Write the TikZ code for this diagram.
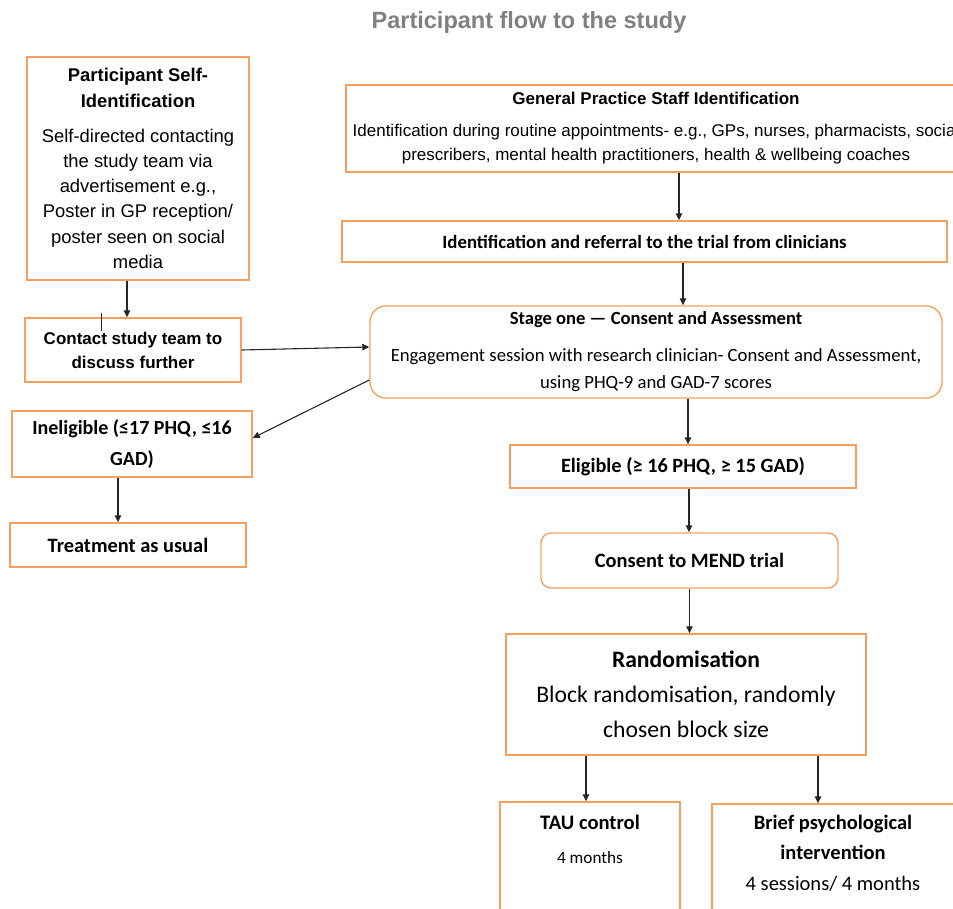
\documentclass[tikz,border=0pt]{standalone}
\usepackage{fontspec}
\setmainfont{Carlito}
\newfontfamily\arialfont{Liberation Sans}
\usetikzlibrary{arrows.meta}

\definecolor{boxorange}{RGB}{245,160,98}
\definecolor{titlegray}{RGB}{128,128,128}

\begin{document}
\begin{tikzpicture}[x=1pt,y=-1pt,>={Triangle[length=7pt,width=6.5pt]},
  box/.style={draw=boxorange,line width=1.4pt,inner sep=0pt,align=center},
  rbox/.style={box,rounded corners=16pt},
  arr/.style={->,line width=1.1pt,black!85}]

  % Page: same frame as the source image, anything sticking out is cut.
  \useasboundingbox (0,0) rectangle (953,909);
  \begin{scope}
    \clip (0,0) rectangle (953,909);

    % --- Title ---
    \node[titlegray,font=\arialfont\bfseries\fontsize{23.5}{28}\selectfont] (title) at (529,22)
      {Participant flow to the study};

    % --- Left column: self-identification route ---
    \node[box,minimum width=222pt,minimum height=223pt,
          font=\arialfont\fontsize{18.4}{25.2}\selectfont] (selfid) at (138,168.5) {%
      \textbf{Participant Self-}\\\textbf{Identification}\\[10pt]
      Self-directed contacting\\the study team via\\advertisement e.g.,\\
      Poster in GP reception/\\poster seen on social\\media};

    \node[box,minimum width=216pt,minimum height=64pt,
          font=\arialfont\bfseries\fontsize{17}{24}\selectfont] (contact) at (133,350)
      {Contact study team to\\discuss further};

    \node[box,minimum width=240pt,minimum height=66pt,
          font=\bfseries\fontsize{20}{31}\selectfont] (inelig) at (132,444)
      {Ineligible (≤17 PHQ, ≤16\\GAD)};

    \node[box,minimum width=236pt,minimum height=44pt,
          font=\bfseries\fontsize{20.4}{24}\selectfont] (tauusual) at (128,545)
      {Treatment as usual};

    % stray tick left on the contact box
    \coordinate (tickTop) at (101,313);
    \coordinate (tickBot) at (101,331);
    \draw[line width=1pt,black!85] (tickTop) -- (tickBot);

    % --- Right column: practice staff route ---
    \node[box,minimum width=620pt,minimum height=87pt,
          font=\arialfont\fontsize{17}{24}\selectfont] (gpbox) at (656,128.5) {%
      \textbf{General Practice Staff Identification}\\[8pt]
      Identification during routine appointments- e.g., GPs, nurses, pharmacists, social\\
      prescribers, mental health practitioners, health \& wellbeing coaches};

    \node[box,minimum width=605pt,minimum height=41pt,
          font=\bfseries\fontsize{18.8}{22}\selectfont] (referral) at (644.5,241.5)
      {Identification and referral to the trial from clinicians};

    \node[rbox,minimum width=572pt,minimum height=92pt,
          font=\fontsize{18.7}{27}\selectfont] (stage) at (656,352) {%
      {\bfseries\fontsize{18.6}{22}\selectfont Stage one — Consent and Assessment}\\[10pt]
      Engagement session with research clinician- Consent and Assessment,\\
      using PHQ-9 and GAD-7 scores};

    \node[box,minimum width=346pt,minimum height=43pt,
          font=\bfseries\fontsize{20.3}{24}\selectfont] (eligible) at (683,466.5)
      {Eligible (≥ 16 PHQ, ≥ 15 GAD)};

    \node[rbox,rounded corners=10pt,minimum width=297pt,minimum height=55pt,
          font=\bfseries\fontsize{20.4}{24}\selectfont] (consent) at (689.5,560.5)
      {Consent to MEND trial};

    \node[box,minimum width=360pt,minimum height=121pt,
          font=\fontsize{23.7}{35}\selectfont] (random) at (686,694.5) {%
      {\bfseries\fontsize{23.6}{28}\selectfont Randomisation}\\
      Block randomisation, randomly\\chosen block size};

    % --- Arms (cut off by the page bottom) ---
    \node[box,minimum width=180pt,minimum height=128pt] (taubox) at (590,866) {};
    \node[font=\bfseries\fontsize{20.6}{24}\selectfont] (tautitle) at (590,822) {TAU control};
    \node[font=\fontsize{17.2}{20}\selectfont] (taumonths) at (590,858) {4 months};

    \node[box,minimum width=263pt,minimum height=126pt] (briefbox) at (843.5,867) {};
    \node[align=center,font=\fontsize{20.5}{30.5}\selectfont] (brieftext) at (833,853) {%
      \textbf{Brief psychological}\\\textbf{intervention}\\
      4 sessions/ 4 months};

    % --- Connectors ---
    \draw[arr] ([xshift=-11pt]selfid.south) -- ([xshift=-11pt]selfid.south |- contact.north);
    \draw[arr] (contact.east) -- ([yshift=5pt]stage.west);
    \draw[arr] ([yshift=-28pt]stage.west) -- ([yshift=6pt]inelig.east);
    \draw[arr] ([xshift=-14pt]inelig.south) -- ([xshift=-14pt]inelig.south |- tauusual.north);

    \draw[arr] ([xshift=23pt]gpbox.south) -- ([xshift=23pt]gpbox.south |- referral.north);
    \draw[arr] ([xshift=38.5pt]referral.south) -- ([xshift=38.5pt]referral.south |- stage.north);
    \draw[arr] ([xshift=32pt]stage.south) -- ([xshift=32pt]stage.south |- eligible.north);
    \draw[arr] ([xshift=6pt]eligible.south) -- ([xshift=6pt]eligible.south |- consent.north);
    \draw[arr] (consent.south) -- (consent.south |- random.north);
    \draw[arr] ([xshift=-100pt]random.south) -- ([xshift=-100pt]random.south |- taubox.north);
    \draw[arr] ([xshift=132pt]random.south) -- ([xshift=132pt]random.south |- briefbox.north);
  \end{scope}

\end{tikzpicture}
\end{document}
